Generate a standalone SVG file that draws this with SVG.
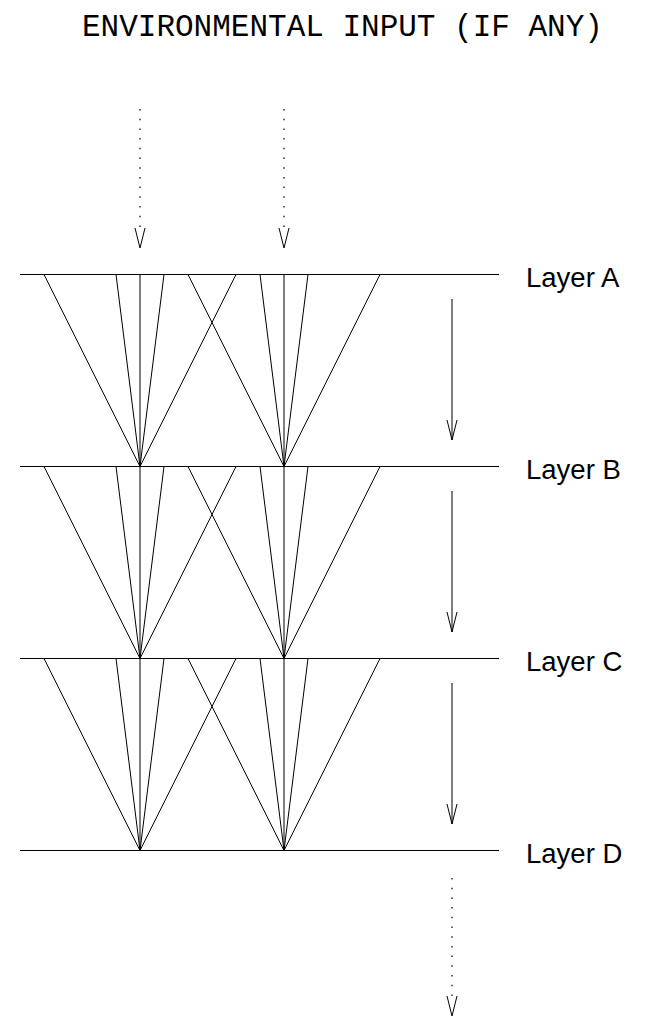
<svg xmlns="http://www.w3.org/2000/svg" width="662" height="1017" viewBox="0 0 662 1017">
<style>
.layer{stroke:#000;stroke-width:1.2;fill:none}
.fan{stroke:#000;stroke-width:1;fill:none}
.solid{stroke:#000;stroke-width:1;fill:none}
.dot{stroke:#333;stroke-width:1.5;fill:none;stroke-dasharray:1.5 8.2}
.head{stroke:#000;stroke-width:1;fill:none}
.lbl{font-family:"Liberation Sans",Arial,sans-serif;font-size:27.5px;fill:#000}
.title{font-family:"Liberation Mono","Courier New",monospace;font-size:31px;fill:#000}
</style>
<defs>
<g id="fans">
<path class="fan" d="M44 0L140 192M116 0L140 192M140 0V192M164 0L140 192M236 0L140 192"/>
<path class="fan" d="M188 0L284 192M260 0L284 192M284 0V192M308 0L284 192M380 0L284 192"/>
</g>
<path id="vhead" class="head" d="M-5 -20L0 0L5 -20"/>
</defs>
<g id="title"><text class="title" x="82" y="36">ENVIRONMENTAL INPUT (IF ANY)</text></g>
<g id="layerA"><line class="layer" x1="20" y1="274.5" x2="499" y2="274.5"/><text class="lbl" x="526" y="287">Layer A</text></g>
<g id="layerB"><line class="layer" x1="20" y1="466.5" x2="499" y2="466.5"/><text class="lbl" x="526" y="479">Layer B</text></g>
<g id="layerC"><line class="layer" x1="20" y1="658.5" x2="499" y2="658.5"/><text class="lbl" x="526" y="671">Layer C</text></g>
<g id="layerD"><line class="layer" x1="20" y1="850.5" x2="499" y2="850.5"/><text class="lbl" x="526" y="863">Layer D</text></g>
<g id="connectors">
<use href="#fans" transform="translate(0,274.5)"/>
<use href="#fans" transform="translate(0,466.5)"/>
<use href="#fans" transform="translate(0,658.5)"/>
<line class="dot" x1="140" y1="109" x2="140" y2="228"/>
<use href="#vhead" transform="translate(140,248)"/>
<line class="dot" x1="284" y1="109" x2="284" y2="228"/>
<use href="#vhead" transform="translate(284,248)"/>
<line class="solid" x1="452" y1="299" x2="452" y2="440"/>
<use href="#vhead" transform="translate(452,440)"/>
<line class="solid" x1="452" y1="491" x2="452" y2="632"/>
<use href="#vhead" transform="translate(452,632)"/>
<line class="solid" x1="452" y1="683" x2="452" y2="824"/>
<use href="#vhead" transform="translate(452,824)"/>
<line class="dot" x1="452" y1="878" x2="452" y2="996"/>
<use href="#vhead" transform="translate(452,1016)"/>
</g>
</svg>
